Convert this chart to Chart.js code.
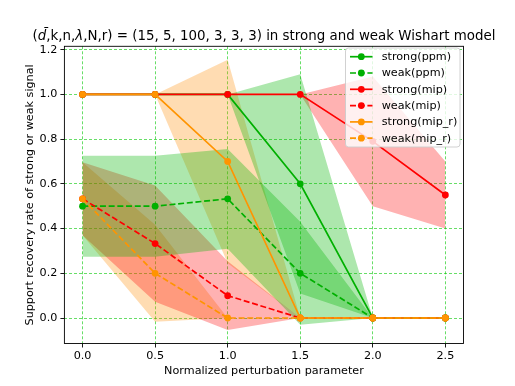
<!DOCTYPE html>
<html>
<head>
<meta charset="utf-8">
<script src="https://cdn.jsdelivr.net/npm/chart.js@4.4.0/dist/chart.umd.min.js"></script>
<style>
  html, body { margin: 0; padding: 0; background: #fff; }
  #chart { display: block; }
</style>
</head>
<body>
<canvas id="chart" width="515" height="386"></canvas>
<script>
// ---- data ----
const xValues = [0, 0.5, 1.0, 1.5, 2.0, 2.5];
const xTicks = [0, 0.5, 1.0, 1.5, 2.0, 2.5];
const yTicks = [0, 0.2, 0.4, 0.6, 0.8, 1.0, 1.2];

const strongPpm   = [1, 1, 1, 0.6, 0, 0];
const strongPpmLo = [1, 1, 1, 0.11, 0, 0];
const strongPpmHi = [1, 1, 1, 1.09, 0, 0];

const weakPpm   = [0.5, 0.5, 0.533, 0.2, 0, 0];
const weakPpmLo = [0.274, 0.274, 0.31, -0.03, 0, 0];
const weakPpmHi = [0.726, 0.726, 0.756, 0.43, 0, 0];

const strongMip   = [1, 1, 1, 1, 0.79, 0.55];
const strongMipLo = [1, 1, 1, 1, 0.50, 0.40];
const strongMipHi = [1, 1, 1, 1, 1.08, 0.70];

const weakMip   = [0.533, 0.333, 0.1, 0, 0, 0];
const weakMipLo = [0.37, 0.073, -0.054, 0, 0, 0];
const weakMipHi = [0.696, 0.593, 0.254, 0, 0, 0];

const strongMipR   = [1, 1, 0.7, 0, 0, 0];
const strongMipRLo = [1, 1, 0.245, 0, 0, 0];
const strongMipRHi = [1, 1, 1.155, 0, 0, 0];

const weakMipR   = [0.533, 0.2, 0, 0, 0, 0];
const weakMipRLo = [0.37, -0.017, 0, 0, 0, 0];
const weakMipRHi = [0.696, 0.417, 0, 0, 0, 0];

// ---- colours ----
const GREEN = '#00b000', GREEN_BAND = 'rgba(0,180,0,0.32)';
const RED = '#ff0000', RED_BAND = 'rgba(255,0,0,0.3)';
const ORANGE = '#ff9400', ORANGE_BAND = 'rgba(255,140,0,0.3)';
const DASH = [6, 2.7];

const series = [
  { label: 'strong(ppm)', mean: strongPpm, lo: strongPpmLo, hi: strongPpmHi, color: GREEN, band: GREEN_BAND, dashed: false },
  { label: 'weak(ppm)', mean: weakPpm, lo: weakPpmLo, hi: weakPpmHi, color: GREEN, band: GREEN_BAND, dashed: true },
  { label: 'strong(mip)', mean: strongMip, lo: strongMipLo, hi: strongMipHi, color: RED, band: RED_BAND, dashed: false },
  { label: 'weak(mip)', mean: weakMip, lo: weakMipLo, hi: weakMipHi, color: RED, band: RED_BAND, dashed: true },
  { label: 'strong(mip_r)', mean: strongMipR, lo: strongMipRLo, hi: strongMipRHi, color: ORANGE, band: ORANGE_BAND, dashed: false },
  { label: 'weak(mip_r)', mean: weakMipR, lo: weakMipRLo, hi: weakMipRHi, color: ORANGE, band: ORANGE_BAND, dashed: true },
];

function pts(arr) {
  return arr.map((v, i) => ({ x: xValues[i], y: v }));
}

const datasets = [];
// lines: later series drawn on top (lower order = drawn later)
series.forEach((s, i) => {
  datasets.push({
    label: s.label,
    data: pts(s.mean),
    borderColor: s.color,
    backgroundColor: s.color,
    borderWidth: 1.7,
    borderDash: s.dashed ? DASH : [],
    pointRadius: 3.4,
    pointHoverRadius: 3.4,
    pointBorderWidth: 0,
    pointBackgroundColor: s.color,
    fill: false,
    order: series.length - i
  });
});
// shaded bands: lower bound, then upper bound filled down to it
series.forEach(s => {
  datasets.push({
    label: '_band', data: pts(s.lo),
    borderColor: 'rgba(0,0,0,0)', borderWidth: 1, pointRadius: 0, fill: false, order: 20
  });
  datasets.push({
    label: '_band', data: pts(s.hi),
    borderColor: 'rgba(0,0,0,0)', borderWidth: 1, pointRadius: 0,
    fill: '-1', backgroundColor: s.band, order: 20
  });
});

Chart.defaults.font.family = '"DejaVu Sans", sans-serif';
Chart.defaults.font.size = 11.2;
Chart.defaults.color = '#000';

// title, frame and matplotlib style legend
const decorPlugin = {
  id: 'decor',
  afterDraw(chart) {
    const ctx = chart.ctx;
    const ca = chart.chartArea;
    ctx.save();

    // frame
    ctx.strokeStyle = '#000';
    ctx.lineWidth = 0.9;
    ctx.setLineDash([]);
    ctx.strokeRect(ca.left, ca.top, ca.right - ca.left, ca.bottom - ca.top);

    // title
    const normal = '13.4px "DejaVu Sans"';
    const italic = 'italic 13.4px "DejaVu Sans"';
    const parts = [
      ['(', normal], ['d\u0304', italic], [',k,n,', normal], ['\u03bb', italic],
      [',N,r) = (15, 5, 100, 3, 3, 3) in strong and weak Wishart model', normal]
    ];
    let total = 0;
    parts.forEach(p => { ctx.font = p[1]; total += ctx.measureText(p[0]).width; });
    let tx = (ca.left + ca.right) / 2 - total / 2;
    ctx.fillStyle = '#000';
    ctx.textBaseline = 'alphabetic';
    ctx.textAlign = 'left';
    parts.forEach(p => {
      ctx.font = p[1];
      ctx.fillText(p[0], tx, 40);
      tx += ctx.measureText(p[0]).width;
    });

    // legend
    const bx = 345.5, by = 48, bw = 114.5, bh = 99, r = 3;
    ctx.beginPath();
    ctx.moveTo(bx + r, by);
    ctx.arcTo(bx + bw, by, bx + bw, by + bh, r);
    ctx.arcTo(bx + bw, by + bh, bx, by + bh, r);
    ctx.arcTo(bx, by + bh, bx, by, r);
    ctx.arcTo(bx, by, bx + bw, by, r);
    ctx.closePath();
    ctx.fillStyle = 'rgba(255,255,255,0.8)';
    ctx.fill();
    ctx.strokeStyle = '#cccccc';
    ctx.lineWidth = 0.9;
    ctx.stroke();

    ctx.font = '11.2px "DejaVu Sans"';
    ctx.textBaseline = 'middle';
    chart.data.datasets.filter(d => d.label !== '_band').forEach((ds, i) => {
      const cy = 56.7 + i * 16.3;
      ctx.strokeStyle = ds.borderColor;
      ctx.lineWidth = 1.7;
      ctx.setLineDash(ds.borderDash);
      ctx.beginPath();
      ctx.moveTo(350, cy);
      ctx.lineTo(372.5, cy);
      ctx.stroke();
      ctx.setLineDash([]);
      ctx.fillStyle = ds.borderColor;
      ctx.beginPath();
      ctx.arc(361.3, cy, 3.4, 0, Math.PI * 2);
      ctx.fill();
      ctx.fillStyle = '#000';
      ctx.fillText(ds.label, 381.7, cy + 0.5);
    });

    ctx.restore();
  }
};

const gridOpts = {
  color: 'rgba(0,200,0,0.75)',
  lineWidth: 0.8,
  drawTicks: true,
  tickLength: 4,
  tickColor: '#000',
  tickWidth: 0.9,
  tickBorderDash: []
};

new Chart(document.getElementById('chart'), {
  type: 'line',
  data: { datasets: datasets },
  options: {
    responsive: false,
    animation: false,
    devicePixelRatio: 1,
    layout: { padding: { top: 46.3, right: 51.5, left: 0, bottom: 0 } },
    plugins: {
      legend: { display: false },
      title: { display: false },
      tooltip: { enabled: false }
    },
    scales: {
      x: {
        type: 'linear',
        min: -0.125,
        max: 2.625,
        afterBuildTicks: axis => { axis.ticks = xTicks.map(v => ({ value: v })); },
        afterFit: axis => { axis.height = 42.5; },
        ticks: { callback: v => v.toFixed(1), padding: 2, maxRotation: 0, autoSkip: false },
        grid: gridOpts,
        border: { display: false, dash: [3, 2] },
        title: { display: true, text: 'Normalized perturbation parameter', padding: { top: 0, bottom: 8 } }
      },
      y: {
        type: 'linear',
        min: -0.114,
        max: 1.215,
        afterBuildTicks: axis => { axis.ticks = yTicks.map(v => ({ value: v })); },
        afterFit: axis => { axis.width = 64.4; },
        ticks: { callback: v => v.toFixed(1), padding: 3, autoSkip: false },
        grid: gridOpts,
        border: { display: false, dash: [3, 2] },
        title: { display: true, text: 'Support recovery rate of strong or weak signal', padding: { top: 23, bottom: 0 } }
      }
    }
  },
  plugins: [decorPlugin]
});
</script>
</body>
</html>
